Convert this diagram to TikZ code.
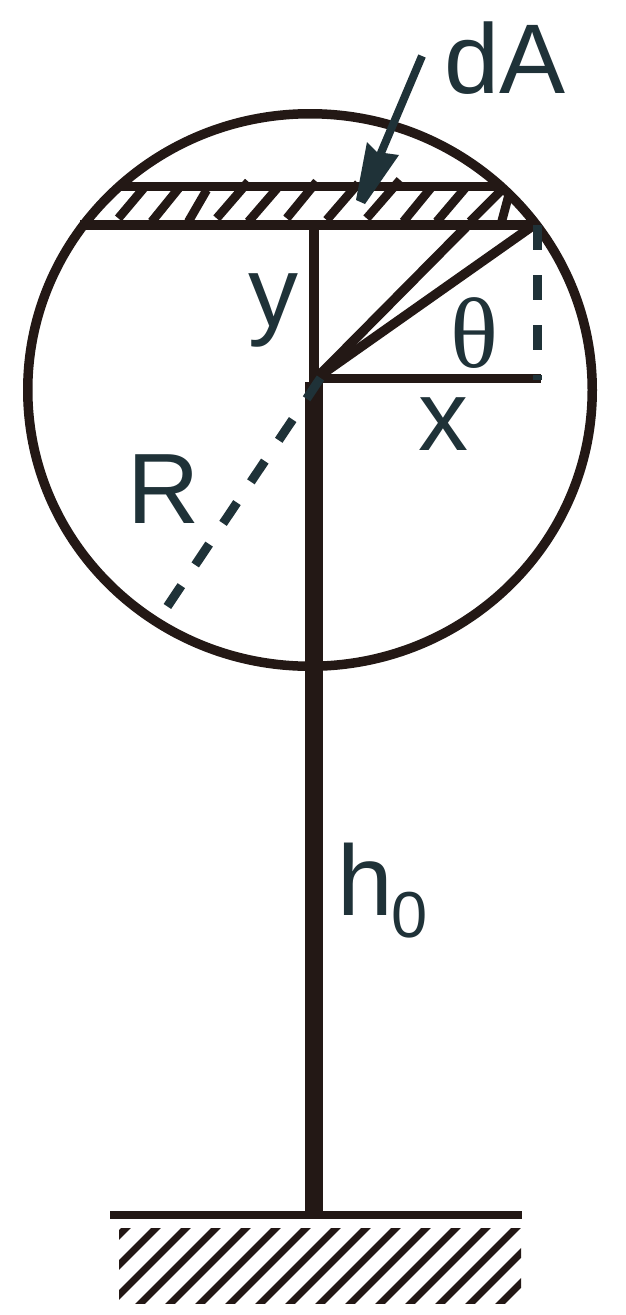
\documentclass[tikz,border=0pt]{standalone}
\usepackage{fontspec}
\setmainfont{Liberation Sans}
\newfontfamily\greekserif{Liberation Serif}
\definecolor{ink}{HTML}{231815}
\definecolor{teal}{HTML}{1F3238}
\tikzset{
  lbl/.style={inner sep=0pt,outer sep=0pt,text=teal,anchor=base,font=\fontsize{100}{100}\selectfont},
  thin line/.style={draw=ink,line width=9.5pt},
  hatch/.style={draw=ink,line width=8.8pt},
  ghatch/.style={draw=ink,line width=8pt},
  gstripe/.style={draw=ink,line width=6.8pt},
  dash line/.style={draw=teal,line width=9pt,dash pattern=on 25pt off 25pt},
}
\begin{document}
\begin{tikzpicture}[x=1pt,y=-1pt]
\path[fill=white,use as bounding box] (0,0) rectangle (625,1315);
% key points
\coordinate (O) at (316,378.5);
\coordinate (poleTop) at (314,382);
\coordinate (poleBase) at (314,1215);
\coordinate (stripTL) at (120,186.5);
\coordinate (stripTR) at (503,186.5);
\coordinate (stripBL) at (80,225);
\coordinate (stripBR) at (534,225);
\coordinate (yTop) at (314,225);
\coordinate (yBot) at (314,382);
\coordinate (xEnd) at (541,378.5);
\coordinate (r2) at (468,225);
\coordinate (Rstart) at (320.5,378);
\coordinate (Rend) at (167,607);
\coordinate (vTop) at (537,225);
\coordinate (vBot) at (537,380);
\coordinate (aStart) at (422,56);
\coordinate (aNeck) at (378,160);
\coordinate (gL) at (110,1215);
\coordinate (gR) at (522,1215);
% circle
\draw[thin line] (310,390) ellipse [x radius=282.25,y radius=276.25];
% strip hatch
\foreach \a/\b/\c/\d in {
 175/565/255/470,275/575/360/470,385/575/440/480,470/565/565/455,
 565/575/660/465,680/565/770/455,800/570/895/460,920/565/1020/450,
 1030/575/1120/465,1130/575/1215/475,1230/575/1325/480,1325/575/1345/500}
  \draw[hatch] ({60+\a/3},{30+\b/3}) -- ({60+\c/3},{30+\d/3});
% strip edges
\draw[draw=ink,line width=8.5pt] (stripTL) -- (stripTR);
\draw[draw=ink,line width=10pt] (stripBL) -- (stripBR);
% triangle lines
\draw[thin line] (yTop) -- (yBot);
\draw[thin line] (O) -- (xEnd);
\draw[thin line] (O) -- (stripBR);
\draw[thin line] (O) -- (r2);
% pole
\draw[draw=ink,line width=18pt] (poleTop) -- (poleBase);
% dashed
\draw[dash line] (vTop) -- (vBot);
\draw[dash line] (Rstart) -- (Rend);
% arrow
\draw[draw=teal,line width=8pt] (aStart) -- (aNeck);
\fill[teal] (367,142) -- (377,152) -- (399,155) -- (365,204) -- (356,200) -- cycle;
% ground
\draw[ghatch] (gL) -- (gR);
\begin{scope}
\clip (119,1228) rectangle (521,1303);
\foreach \k in {0,...,20}
  \draw[gstripe] ({126+30*\k-100},{1228+100}) -- ({126+30*\k+20},{1228-20});
\end{scope}
% labels
\node[lbl,font=\fontsize{99}{99}\selectfont] (dA) at (505,93) {dA};
\node[lbl] (y) at (273,326) {y};
\node[lbl] (x) at (443,450) {x};
\node[lbl] (R) at (164,523) {R};
\node[lbl,font=\fontsize{100}{100}\greekserif\selectfont] (theta) at (474,367) {θ};
\node[lbl] (h) at (365,915) {h};
\node[lbl,font=\fontsize{65}{65}\selectfont] (zero) at (409.5,937) {0};
\end{tikzpicture}
\end{document}
